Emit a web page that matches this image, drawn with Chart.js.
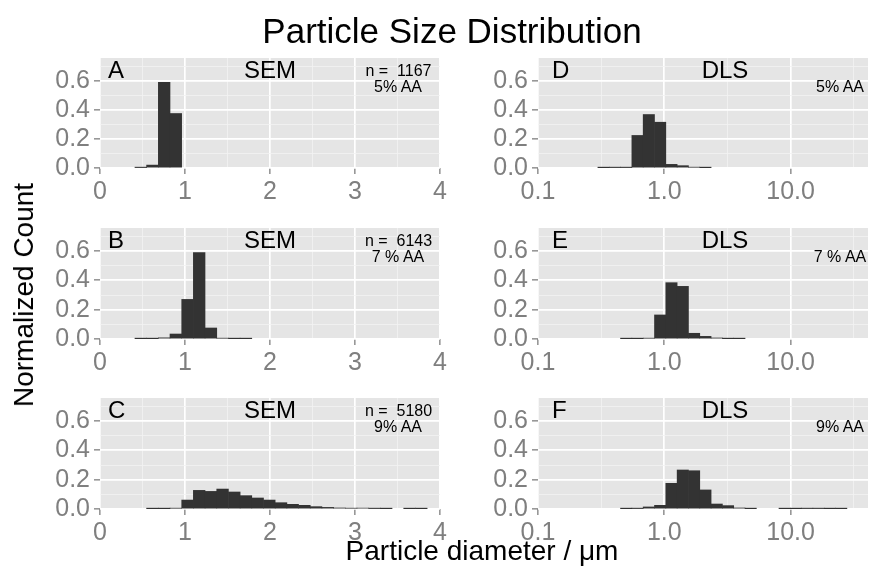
<!DOCTYPE html>
<html><head><meta charset="utf-8">
<script src="https://cdn.jsdelivr.net/npm/chart.js@4.4.1/dist/chart.umd.min.js"></script>
<style>
html,body{margin:0;padding:0;background:#fff;}
body{width:870px;height:571px;overflow:hidden;position:relative;font-family:"Liberation Sans",Arial,Helvetica,sans-serif;}
canvas{position:absolute;}
.t{position:absolute;white-space:pre;color:#000;line-height:1;z-index:5;}
</style></head><body>
<script>
// ---------- data ----------
const chartTitle = "Particle Size Distribution";
const yAxisTitle = "Normalized Count";
const xAxisTitle = "Particle diameter / \u03bcm";

// SEM histogram bin centres (µm)
const semCenters = [0.480,0.617,0.755,0.892,1.030,1.167,1.305,1.442,1.580,1.717,1.855,1.992,2.130,
                    2.267,2.405,2.542,2.680,2.817,2.955,3.092,3.230,3.367,3.505,3.642,3.780];
const semA = [0.003,0.020,0.590,0.375,0,0,0,0,0,0,0,0,0,0,0,0,0,0,0,0,0,0,0,0,0];
const semB = [0.001,0.002,0.008,0.034,0.270,0.590,0.075,0.005,0.002,0.001,0,0,0,0,0,0,0,0,0,0,0,0,0,0,0];
const semC = [0,0.001,0.002,0.005,0.061,0.127,0.120,0.136,0.116,0.091,0.075,0.061,0.043,
              0.032,0.025,0.016,0.011,0.007,0.005,0.006,0.003,0.002,0,0.001,0.001];

// DLS histogram bin centres (µm, log bins)
const dlsCenters = [0.3305,0.4063,0.4993,0.6137,0.7543,0.9273,1.1397,1.4009,1.7219,2.1165,2.6015,
                    3.1975,3.9302,4.8306,5.9380,7.2980,8.9709,11.026,13.552,16.657,20.474,25.17];
const dlsD = [0.001,0.003,0.003,0.224,0.368,0.315,0.025,0.016,0.005,0.002,0,0,0,0,0,0,0,0,0,0,0,0];
const dlsE = [0,0,0.001,0.002,0.005,0.164,0.384,0.359,0.039,0.018,0.007,0.002,0.001,0,0,0,0,0,0,0,0,0];
const dlsF = [0,0,0.001,0.003,0.014,0.025,0.175,0.266,0.261,0.130,0.034,0.023,0.007,0.001,0,0,0.001,0.002,0.003,0.003,0.001,0.001];

// ticks
const yTickValues = [0,0.1,0.2,0.3,0.4,0.5,0.6,0.7];
const yMajorTicks = [0,0.2,0.4,0.6];
const semXTickValues = [0,0.5,1,1.5,2,2.5,3,3.5,4];
const semXMajorTicks = [0,1,2,3,4];
const semXTickLabels = ["0","1","2","3","4"];
const dlsXTickValues = [0.1,0.3162,1,3.162,10,31.62];
const dlsXMajorTicks = [0.1,1,10];
const dlsXTickLabels = ["0.1","1.0","10.0"];

const panelLetters = ["A","B","C","D","E","F"];
const panelMethods = ["SEM","SEM","SEM","DLS","DLS","DLS"];
const panelCounts = ["n =  1167","n =  6143","n =  5180","","",""];
const panelConc = ["5% AA","7 % AA","9% AA","5% AA","7 % AA","9% AA"];

// ---------- layout ----------
const FONT = '"Liberation Sans", Arial, Helvetica, sans-serif';
const rowTop = [58, 228, 398];
const rowH = [110, 111, 111];
const PADT = 20, PADR = 15, XH = 40;
const GREY = '#7f7f7f';

const bgPlugin = {
  id: 'panelBg',
  beforeDraw(chart) {
    const {ctx, chartArea: a} = chart;
    ctx.save();
    ctx.fillStyle = '#e5e5e5';
    ctx.fillRect(a.left, a.top, a.right - a.left, a.bottom - a.top);
    ctx.restore();
  }
};

function isIn(v, arr) { return arr.some(m => Math.abs(v - m) <= 1e-6 * Math.max(1, Math.abs(m))); }

function makePanel(cfg) {
  const cv = document.createElement('canvas');
  const w = cfg.yw + cfg.plotW + PADR;
  const h = PADT + cfg.plotH + XH;
  cv.width = w; cv.height = h;
  cv.style.left = (cfg.plotLeft - cfg.yw) + 'px';
  cv.style.top = (cfg.plotTop - PADT) + 'px';
  cv.style.width = w + 'px'; cv.style.height = h + 'px';
  document.body.appendChild(cv);
  const xMajors = cfg.xMajors, xLabels = cfg.xLabels;
  new Chart(cv, {
    type: 'bar',
    data: { datasets: [{
      data: cfg.centers.map((x, i) => ({x: x, y: cfg.values[i] > 0 ? cfg.values[i] : null})),
      backgroundColor: '#333333', borderWidth: 0,
      barPercentage: 1, categoryPercentage: 1
    }]},
    options: {
      responsive: false, animation: false, events: [], devicePixelRatio: 1,
      layout: { padding: { top: PADT, right: PADR, left: 0, bottom: 0 } },
      plugins: { legend: { display: false }, tooltip: { enabled: false } },
      scales: {
        x: {
          type: cfg.xType, min: cfg.xMin, max: cfg.xMax, offset: false,
          afterBuildTicks: s => { s.ticks = cfg.xTicks.map(v => ({value: v})); },
          afterFit: s => { s.height = XH; },
          border: { display: false },
          grid: {
            offset: false, drawOnChartArea: true, drawTicks: true, tickLength: 6, tickWidth: 1.3,
            color: c => isIn(c.tick.value, xMajors) ? '#ffffff' : '#f2f2f2',
            lineWidth: c => isIn(c.tick.value, xMajors) ? 1.7 : 0.8,
            tickColor: c => isIn(c.tick.value, xMajors) ? GREY : 'rgba(0,0,0,0)'
          },
          ticks: {
            autoSkip: false, maxRotation: 0, minRotation: 0, padding: 3, color: GREY,
            font: { family: FONT, size: 25 },
            callback: v => { const k = xMajors.findIndex(m => isIn(v, [m])); return k >= 0 ? xLabels[k] : ''; }
          }
        },
        y: {
          type: 'linear', min: 0, max: 0.757,
          afterBuildTicks: s => { s.ticks = yTickValues.map(v => ({value: v})); },
          afterFit: s => { s.width = cfg.yw; },
          border: { display: false },
          grid: {
            drawOnChartArea: true, drawTicks: true, tickLength: 6, tickWidth: 1.3,
            color: c => isIn(c.tick.value, yMajorTicks) ? '#ffffff' : '#f2f2f2',
            lineWidth: c => isIn(c.tick.value, yMajorTicks) ? 1.7 : 0.8,
            tickColor: c => isIn(c.tick.value, yMajorTicks) ? GREY : 'rgba(0,0,0,0)'
          },
          ticks: {
            autoSkip: false, padding: 4, color: GREY,
            font: { family: FONT, size: 25 },
            callback: v => isIn(v, yMajorTicks) ? v.toFixed(1) : ''
          }
        }
      }
    },
    plugins: [bgPlugin]
  });
}

function text(str, x, baseline, size, align, extra) {
  const d = document.createElement('div');
  d.className = 't';
  d.textContent = str;
  d.style.fontSize = size + 'px';
  d.style.top = (baseline - 0.8465 * size) + 'px';
  d.style.left = x + 'px';
  if (align === 'center') d.style.transform = 'translateX(-50%)';
  if (extra) Object.assign(d.style, extra);
  document.body.appendChild(d);
  return d;
}

const semSeries = [semA, semB, semC];
const dlsSeries = [dlsD, dlsE, dlsF];
for (let r = 0; r < 3; r++) {
  makePanel({ plotLeft: 100, plotTop: rowTop[r], plotW: 340, plotH: rowH[r], yw: 100,
    xType: 'linear', xMin: 0, xMax: 4, xTicks: semXTickValues, xMajors: semXMajorTicks,
    xLabels: semXTickLabels, centers: semCenters, values: semSeries[r] });
  makePanel({ plotLeft: 538, plotTop: rowTop[r], plotW: 330, plotH: rowH[r], yw: 98,
    xType: 'logarithmic', xMin: 0.1, xMax: 41, xTicks: dlsXTickValues, xMajors: dlsXMajorTicks,
    xLabels: dlsXTickLabels, centers: dlsCenters, values: dlsSeries[r] });
}

// panel annotations
for (let r = 0; r < 3; r++) {
  const t = rowTop[r];
  // left (SEM)
  text(panelLetters[r], 108, t + 20, 24, 'left');
  text(panelMethods[r], 270, t + 20, 24, 'center');
  text(panelCounts[r], 398.5, t + 19, 16, 'center');
  text(panelConc[r], 398, t + 34.5, 16, 'center');
  // right (DLS)
  text(panelLetters[r + 3], 552, t + 20, 24, 'left');
  text(panelMethods[r + 3], 725, t + 20, 24, 'center');
  text(panelConc[r + 3], 840, t + 34.5, 16, 'center');
}

// titles
text(chartTitle, 452, 43, 35, 'center');
text(xAxisTitle, 482, 561, 28, 'center');
const yt = document.createElement('div');
yt.className = 't';
yt.textContent = yAxisTitle;
yt.style.fontSize = '28px';
yt.style.left = '24px';
yt.style.top = '295px';
yt.style.transform = 'translate(-50%,-50%) rotate(-90deg)';
document.body.appendChild(yt);
</script>
</body></html>
